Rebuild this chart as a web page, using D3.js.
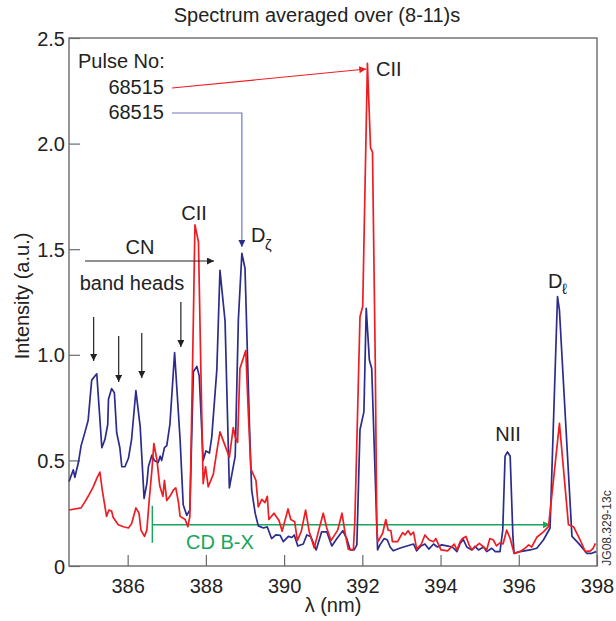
<!DOCTYPE html>
<html>
<head>
<meta charset="utf-8">
<script src="https://cdn.jsdelivr.net/npm/d3@7"></script>
<style>
  body { margin: 0; background: #fff; }
  svg { font-family: "Liberation Sans", Arial, sans-serif; }
</style>
</head>
<body>
<svg width="616" height="621"></svg>
<script>
// wavelength (nm) and intensity (a.u.)
const blueLambda = [384.50,384.61,384.65,384.74,384.81,384.91,384.99,385.08,385.21,385.34,385.42,385.49,385.51,385.59,385.66,385.72,385.80,385.85,385.93,386.02,386.10,386.21,386.32,386.42,386.49,386.53,386.62,386.68,386.78,386.83,386.87,386.94,387.00,387.08,387.20,387.34,387.42,387.51,387.59,387.68,387.77,387.83,387.93,388.00,388.09,388.15,388.28,388.36,388.49,388.60,388.75,388.83,388.92,389.00,389.11,389.17,389.26,389.34,389.47,389.57,389.68,389.79,389.90,389.98,390.11,390.20,390.26,390.35,390.49,390.58,390.68,390.82,390.96,391.09,391.22,391.35,391.50,391.60,391.69,391.79,391.86,391.94,392.04,392.10,392.18,392.24,392.39,392.45,392.56,392.64,392.71,392.79,392.97,393.31,393.39,393.50,393.60,393.70,393.82,393.92,394.03,394.16,394.30,394.42,394.50,394.58,394.67,394.80,394.88,394.97,395.10,395.18,395.31,395.40,395.52,395.59,395.65,395.71,395.78,395.85,395.88,396.03,396.29,396.46,396.63,396.80,396.99,397.04,397.36,397.53,397.74,397.87,397.98];
const blueValues = [0.40,0.455,0.42,0.49,0.57,0.635,0.69,0.88,0.91,0.56,0.60,0.67,0.79,0.84,0.82,0.63,0.56,0.47,0.47,0.51,0.60,0.83,0.66,0.32,0.39,0.47,0.525,0.50,0.49,0.52,0.50,0.56,0.57,0.67,1.01,0.60,0.29,0.24,0.265,0.92,0.945,0.90,0.50,0.545,0.535,0.61,0.93,1.40,1.16,0.37,0.52,1.165,1.48,1.41,0.69,0.36,0.25,0.19,0.18,0.185,0.13,0.147,0.145,0.115,0.14,0.135,0.147,0.095,0.104,0.147,0.14,0.076,0.162,0.162,0.095,0.13,0.167,0.13,0.076,0.076,0.10,0.645,0.73,1.22,0.975,0.935,0.076,0.10,0.13,0.123,0.09,0.072,0.085,0.104,0.072,0.095,0.104,0.08,0.104,0.09,0.10,0.095,0.09,0.068,0.107,0.126,0.09,0.076,0.093,0.076,0.09,0.068,0.084,0.068,0.068,0.17,0.52,0.54,0.52,0.14,0.06,0.068,0.076,0.084,0.123,0.18,1.275,1.21,0.14,0.107,0.06,0.06,0.068];

const redLambda = [384.50,384.81,384.91,384.99,385.12,385.21,385.29,385.35,385.46,385.52,385.59,385.63,385.76,385.89,386.02,386.10,386.21,386.29,386.34,386.43,386.49,386.55,386.62,386.67,386.75,386.82,386.90,386.94,387.00,387.08,387.17,387.23,387.30,387.34,387.47,387.54,387.59,387.68,387.72,387.81,387.87,387.93,387.99,388.06,388.19,388.26,388.36,388.49,388.60,388.70,388.75,388.81,388.87,389.02,389.08,389.15,389.28,389.34,389.43,389.51,389.57,389.61,389.74,389.87,389.95,390.10,390.17,390.27,390.34,390.44,390.55,390.64,390.77,390.88,391.00,391.09,391.20,391.37,391.48,391.56,391.64,391.77,391.81,391.94,392.01,392.13,392.21,392.26,392.33,392.37,392.40,392.52,392.60,392.66,392.73,392.77,392.90,393.03,393.09,393.17,393.24,393.31,393.39,393.51,393.60,393.71,393.82,393.88,394.01,394.18,394.35,394.42,394.50,394.56,394.65,394.73,394.80,394.99,395.10,395.18,395.26,395.35,395.43,395.52,395.60,395.69,395.78,395.88,396.03,396.16,396.25,396.33,396.46,396.63,396.76,397.04,397.27,397.40,397.57,397.70,397.83,397.90,397.96];
const redValues = [0.265,0.275,0.305,0.33,0.375,0.415,0.445,0.36,0.235,0.265,0.26,0.23,0.195,0.186,0.18,0.20,0.275,0.25,0.17,0.14,0.17,0.31,0.455,0.58,0.50,0.38,0.33,0.405,0.31,0.33,0.36,0.37,0.30,0.235,0.22,0.186,0.235,1.17,1.615,1.535,0.945,0.39,0.47,0.375,0.435,0.52,0.635,0.57,0.515,0.655,0.61,0.585,0.935,1.02,0.745,0.46,0.405,0.28,0.315,0.30,0.33,0.22,0.25,0.215,0.165,0.27,0.22,0.21,0.12,0.165,0.265,0.165,0.085,0.165,0.25,0.18,0.12,0.17,0.25,0.155,0.08,0.076,0.22,1.18,1.23,2.38,1.98,1.96,0.975,0.17,0.115,0.155,0.22,0.17,0.167,0.115,0.115,0.158,0.147,0.167,0.147,0.16,0.08,0.104,0.147,0.123,0.115,0.13,0.076,0.072,0.104,0.076,0.115,0.13,0.14,0.10,0.076,0.107,0.09,0.076,0.13,0.123,0.095,0.11,0.105,0.17,0.13,0.06,0.068,0.084,0.10,0.09,0.136,0.162,0.186,0.675,0.195,0.186,0.123,0.068,0.072,0.084,0.107];

const xTicks = [386, 388, 390, 392, 394, 396, 398];
const yTicks = [0, 0.5, 1.0, 1.5, 2.0, 2.5];
const yTickLabels = ["0", "0.5", "1.0", "1.5", "2.0", "2.5"];

const svg = d3.select("svg");
const plotL = 69, plotR = 597, plotT = 38, plotB = 566;
const blue = "#2b2c8c", red = "#ee1d23", green = "#17a65a", axisCol = "#6a6a6a";
const fs = 20;

const x = d3.scaleLinear().domain([384.5, 398]).range([plotL, plotR]);
const y = d3.scaleLinear().domain([0, 2.5]).range([plotB, plotT]);

// arrow heads
const defs = svg.append("defs");
function marker(id, col, w, h) {
  defs.append("marker")
    .attr("id", id)
    .attr("viewBox", "0 0 10 10")
    .attr("refX", 10).attr("refY", 5)
    .attr("markerWidth", w).attr("markerHeight", h)
    .attr("markerUnits", "userSpaceOnUse")
    .attr("orient", "auto")
    .append("path")
    .attr("d", "M0,0 L10,5 L0,10 Z")
    .attr("fill", col);
}
marker("arrBlack", "#222", 9, 7);
marker("arrRed", red, 9, 7);
marker("arrBlue", blue, 9, 7);
marker("arrGreen", green, 9, 7);

// title
svg.append("text")
  .attr("x", 317).attr("y", 22)
  .attr("text-anchor", "middle")
  .attr("font-size", fs)
  .attr("fill", "#222")
  .text("Spectrum averaged over (8-11)s");

// axes, ticks pointing inward
const xAxis = d3.axisBottom(x).tickValues(xTicks).tickSize(-11);
const gx = svg.append("g").attr("transform", `translate(0,${plotB})`).call(xAxis);
const yAxis = d3.axisLeft(y).tickValues(yTicks).tickSize(-11).tickPadding(4)
  .tickFormat((d, i) => yTickLabels[i]);
const gy = svg.append("g").attr("transform", `translate(${plotL},0)`).call(yAxis);

[gx, gy].forEach(g => {
  g.select(".domain").remove();
  g.selectAll(".tick line").attr("stroke", axisCol).attr("stroke-width", 1.2);
  g.selectAll(".tick text")
    .attr("fill", "#222")
    .attr("font-size", fs)
    .attr("font-family", "Liberation Sans, Arial, sans-serif");
});
gy.selectAll(".tick text").attr("dy", "0.35em");
gx.selectAll(".tick text").attr("y", 27).attr("dy", 0);

// frame
svg.append("rect")
  .attr("x", plotL).attr("y", plotT)
  .attr("width", plotR - plotL).attr("height", plotB - plotT)
  .attr("fill", "none")
  .attr("stroke", axisCol)
  .attr("stroke-width", 1.4);

// axis labels
svg.append("text")
  .attr("x", (plotL + plotR) / 2).attr("y", 612)
  .attr("text-anchor", "middle")
  .attr("font-size", fs)
  .attr("fill", "#222")
  .text("λ (nm)");

svg.append("text")
  .attr("transform", "translate(29,296) rotate(-90)")
  .attr("text-anchor", "middle")
  .attr("font-size", fs)
  .attr("fill", "#222")
  .text("Intensity (a.u.)");

// CD B-X band (green)
svg.append("line")
  .attr("x1", x(386.63)).attr("x2", x(386.63))
  .attr("y1", y(0.285)).attr("y2", y(0.11))
  .attr("stroke", green).attr("stroke-width", 1.4);
svg.append("line")
  .attr("x1", x(386.63)).attr("x2", x(396.8))
  .attr("y1", y(0.195)).attr("y2", y(0.195))
  .attr("stroke", green).attr("stroke-width", 1.4)
  .attr("marker-end", "url(#arrGreen)");
svg.append("text")
  .attr("x", 186).attr("y", 549)
  .attr("font-size", fs)
  .attr("fill", green)
  .text("CD B-X");

// spectra
const line = d3.line().x(d => x(d[0])).y(d => y(d[1]));
const blueData = blueLambda.map((l, i) => [l, blueValues[i]]);
const redData = redLambda.map((l, i) => [l, redValues[i]]);

svg.append("path").datum(blueData)
  .attr("d", line).attr("fill", "none")
  .attr("stroke", blue).attr("stroke-width", 1.7)
  .attr("stroke-linejoin", "round");
svg.append("path").datum(redData)
  .attr("d", line).attr("fill", "none")
  .attr("stroke", red).attr("stroke-width", 1.7)
  .attr("stroke-linejoin", "round");

// pulse labels
const txt = (s, px, py, opts = {}) => svg.append("text")
  .attr("x", px).attr("y", py)
  .attr("font-size", opts.size || fs)
  .attr("text-anchor", opts.anchor || "start")
  .attr("fill", opts.fill || "#222")
  .text(s);

txt("Pulse No:", 78, 68);
txt("68515", 164, 94, { anchor: "end" });
txt("68515", 164, 119, { anchor: "end" });

svg.append("line")
  .attr("x1", 172).attr("y1", 88)
  .attr("x2", x(392.1)).attr("y2", 69)
  .attr("stroke", red).attr("stroke-width", 1.2)
  .attr("marker-end", "url(#arrRed)");

svg.append("path")
  .attr("d", `M172,113 H${x(388.92)} V${y(1.51)}`)
  .attr("fill", "none")
  .attr("stroke", "#7275bf").attr("stroke-width", 1.2)
  .attr("marker-end", "url(#arrBlue)");

// line labels
txt("CII", 376, 76);
txt("CII", 194, 220, { anchor: "middle" });
txt("D", 251, 242);
txt("ζ", 265, 250, { size: 15 });
txt("NII", 508, 441, { anchor: "middle" });
txt("D", 548, 288);
txt("ℓ", 562, 294, { size: 15 });

// CN band heads
txt("CN", 140, 254, { anchor: "middle" });
svg.append("line")
  .attr("x1", 85).attr("y1", 261).attr("x2", 214).attr("y2", 261)
  .attr("stroke", "#222").attr("stroke-width", 1.2)
  .attr("marker-end", "url(#arrBlack)");
txt("band heads", 132, 290, { anchor: "middle" });

const bandHeads = [[385.13, 317, 361], [385.77, 336, 382], [386.36, 333, 378], [387.36, 302, 347]];
svg.selectAll("line.head")
  .data(bandHeads)
  .join("line")
  .attr("class", "head")
  .attr("x1", d => x(d[0])).attr("x2", d => x(d[0]))
  .attr("y1", d => d[1]).attr("y2", d => d[2])
  .attr("stroke", "#222").attr("stroke-width", 1.2)
  .attr("marker-end", "url(#arrBlack)");

// figure id
svg.append("text")
  .attr("transform", "translate(611,528) rotate(-90)")
  .attr("text-anchor", "middle")
  .attr("font-size", 12)
  .attr("fill", "#333")
  .text("JG08.329-13c");
</script>
</body>
</html>
